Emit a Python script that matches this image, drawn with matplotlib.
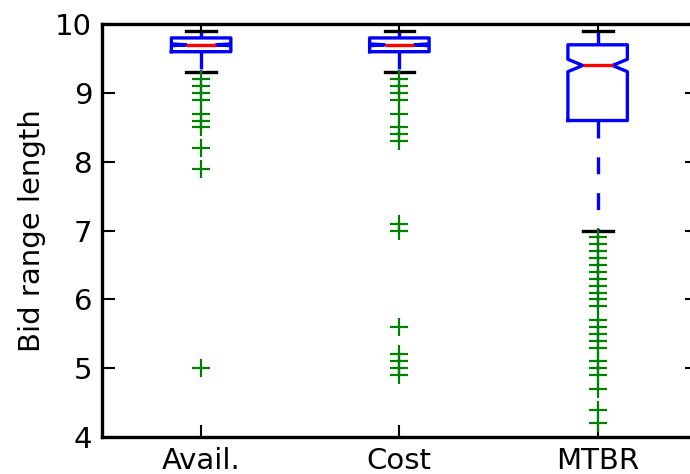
import matplotlib
matplotlib.use("Agg")
import matplotlib.pyplot as plt

# box statistics
labels = ["Avail.", "Cost", "MTBR"]
medians = [9.7, 9.7, 9.4]
q1s = [9.6, 9.6, 8.6]
q3s = [9.8, 9.8, 9.7]
whis_lo = [9.3, 9.3, 7.0]
whis_hi = [9.9, 9.9, 9.9]
notch_half = [0.013, 0.013, 0.09]

fliers_avail = [9.2, 9.1, 9.0, 8.9, 8.7, 8.6, 8.5, 8.2, 7.9, 5.0]
fliers_cost = [9.2, 9.1, 9.0, 8.9, 8.7, 8.5, 8.4, 8.3, 7.1, 7.0,
               5.6, 5.2, 5.1, 5.0, 4.9]
fliers_mtbr = [6.9, 6.8, 6.7, 6.6, 6.5, 6.4, 6.3, 6.2, 6.1, 6.0, 5.9,
               5.7, 5.6, 5.5, 5.4, 5.3, 5.1, 5.0, 4.9, 4.7, 4.4, 4.2]
fliers = [fliers_avail, fliers_cost, fliers_mtbr]

plt.rcParams["font.family"] = "DejaVu Sans"
plt.rcParams["lines.scale_dashes"] = False

stats = []
for i, lab in enumerate(labels):
    stats.append({
        "label": lab,
        "med": medians[i],
        "q1": q1s[i],
        "q3": q3s[i],
        "whislo": whis_lo[i],
        "whishi": whis_hi[i],
        "cilo": medians[i] - notch_half[i],
        "cihi": medians[i] + notch_half[i],
        "fliers": fliers[i],
    })

fig = plt.figure(figsize=(6.9, 4.74), dpi=100)
ax = fig.add_axes([0.1478, 0.078, 0.862, 0.871])

lw = 2.4
ax.bxp(stats, positions=[1, 2, 3], widths=0.3, shownotches=True,
       boxprops=dict(color="blue", linewidth=lw),
       medianprops=dict(color="red", linewidth=lw),
       whiskerprops=dict(color="blue", linewidth=lw,
                         linestyle=(0, (12.2, 13.6))),
       capprops=dict(color="black", linewidth=lw),
       flierprops=dict(marker="+", markeredgecolor="green",
                       markersize=13, markeredgewidth=1.6,
                       linestyle="none"))

ax.set_xlim(0.5, 3.5)
ax.set_ylim(4, 10)
ax.set_yticks([4, 5, 6, 7, 8, 9, 10])
ax.set_ylabel("Bid range length", fontsize=21, labelpad=7)

ax.tick_params(direction="in", top=True, right=True, length=9, width=1.5,
               labelsize=21, pad=7)
for sp in ax.spines.values():
    sp.set_linewidth(2.4)

fig.savefig("out.png", dpi=100)
